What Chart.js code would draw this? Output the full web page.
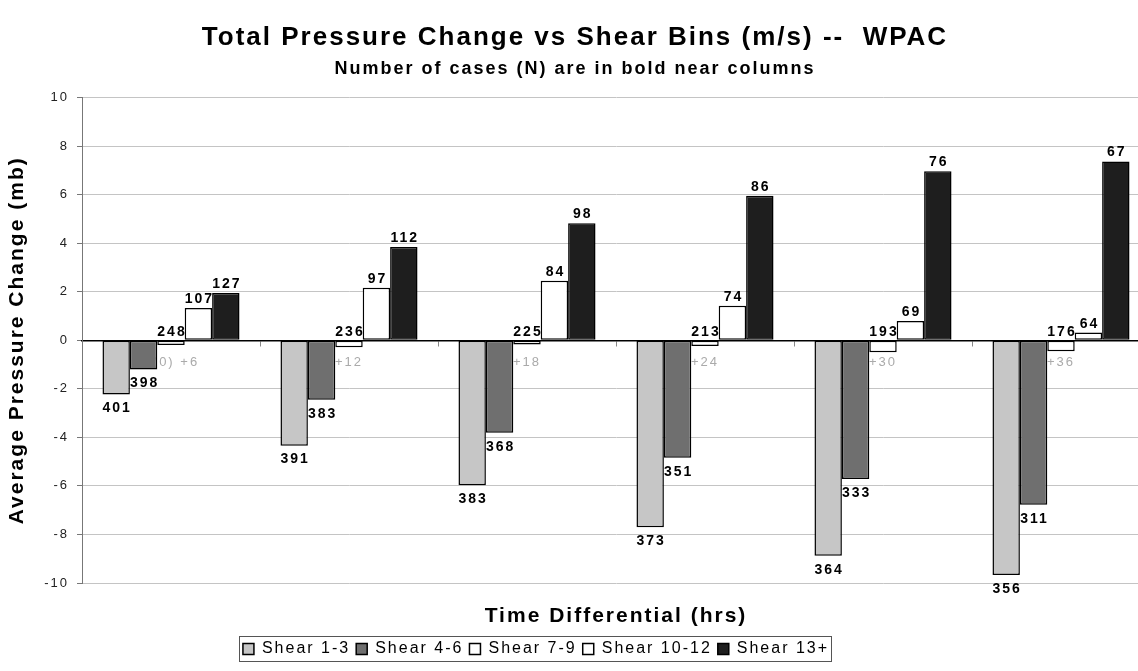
<!DOCTYPE html>
<html>
<head>
<meta charset="utf-8">
<title>Total Pressure Change vs Shear Bins -- WPAC</title>
<script src="https://cdn.jsdelivr.net/npm/chart.js@4.4.1/dist/chart.umd.min.js"></script>
<style>
  html, body { margin: 0; padding: 0; background: #fff; overflow: hidden; }
  #wrap { position: relative; width: 1150px; height: 671px; }
</style>
</head>
<body>
<div id="wrap"><canvas id="chart-area"></canvas></div>
<script>
// categories (time after T(0), hrs)
var timeLabels = ['T(0) +6', '+12', '+18', '+24', '+30', '+36'];

// average pressure change (mb) per shear bin
var shear1to3  = [-2.23, -4.34, -5.97, -7.70, -8.88, -9.67];
var shear4to6  = [-1.20, -2.45, -3.81, -4.84, -5.72, -6.78];
var shear7to9  = [-0.19, -0.29, -0.17, -0.23, -0.49, -0.45];
var shear10to12 = [1.33, 2.17, 2.45, 1.42, 0.80, 0.32];
var shear13up  = [1.95, 3.84, 4.82, 5.96, 6.97, 7.37];

// number of cases (N)
var n1to3   = [401, 391, 383, 373, 364, 356];
var n4to6   = [398, 383, 368, 351, 333, 311];
var n7to9   = [248, 236, 225, 213, 193, 176];
var n10to12 = [107, 97, 84, 74, 69, 64];
var n13up   = [127, 112, 98, 86, 76, 67];

var font = '"Liberation Sans", Arial, Helvetica, sans-serif';
var spacing = '2px';

function makeSet(label, data, counts, color) {
  return {
    label: label,
    data: data,
    counts: counts,
    backgroundColor: color,
    borderColor: '#000',
    borderWidth: 1.5,
    borderSkipped: false,
    categoryPercentage: 0.77,
    barPercentage: 1.0
  };
}

// the scanned original has widely spaced lettering
var letterSpacing = {
  id: 'letterSpacing',
  beforeUpdate: function (chart) { chart.ctx.letterSpacing = spacing; },
  beforeDraw: function (chart) { chart.ctx.letterSpacing = spacing; }
};

// legend sits left of centre in the original, with a box round it
var legendBox = {
  id: 'legendBox',
  afterLayout: function (chart) {
    chart.legend.left -= 39;
    chart.legend.right -= 39;
  },
  afterDraw: function (chart) {
    var hb = chart.legend.legendHitBoxes;
    if (!hb || !hb.length) return;
    var l = Math.min.apply(null, hb.map(function (h) { return h.left; })) - 4;
    var r = Math.max.apply(null, hb.map(function (h) { return h.left + h.width; })) + 2;
    var t = hb[0].top - 5;
    var b = hb[0].top + hb[0].height + 4;
    var ctx = chart.ctx;
    ctx.save();
    ctx.strokeStyle = '#555';
    ctx.lineWidth = 1;
    ctx.strokeRect(Math.round(l) + 0.5, Math.round(t) + 0.5, Math.round(r - l), Math.round(b - t));
    ctx.restore();
  }
};

var countLabels = {
  id: 'countLabels',
  afterDatasetsDraw: function (chart) {
    var ctx = chart.ctx;
    ctx.save();
    ctx.font = 'bold 14px ' + font;
    ctx.fillStyle = '#000';
    ctx.textAlign = 'center';
    chart.data.datasets.forEach(function (ds, i) {
      var meta = chart.getDatasetMeta(i);
      meta.data.forEach(function (bar, j) {
        var v = ds.data[j];
        var n = String(ds.counts[j]);
        if (v < -1) {
          ctx.textBaseline = 'top';
          ctx.fillText(n, bar.x + 1, bar.y + 7);
        } else {
          ctx.textBaseline = 'alphabetic';
          ctx.fillText(n, bar.x + 1, Math.min(bar.y, bar.base) - 5);
        }
      });
    });
    ctx.restore();
  }
};

var config = {
  type: 'bar',
  data: {
    labels: timeLabels,
    datasets: [
      makeSet('Shear 1-3', shear1to3, n1to3, '#c6c6c6'),
      makeSet('Shear 4-6', shear4to6, n4to6, '#6f6f6f'),
      makeSet('Shear 7-9', shear7to9, n7to9, '#ffffff'),
      makeSet('Shear 10-12', shear10to12, n10to12, '#ffffff'),
      makeSet('Shear 13+', shear13up, n13up, '#1e1e1e')
    ]
  },
  options: {
    responsive: true,
    maintainAspectRatio: false,
    animation: false,
    layout: { padding: { left: 0, right: 0, top: 0, bottom: 4 } },
    plugins: {
      tooltip: { enabled: false },
      title: {
        display: true,
        text: 'Total Pressure Change vs Shear Bins (m/s) --  WPAC',
        color: '#000',
        font: { family: font, size: 26, weight: 'bold' },
        padding: { top: 22, bottom: 4.6 }
      },
      subtitle: {
        display: true,
        text: 'Number of cases (N) are in bold near columns',
        color: '#000',
        font: { family: font, size: 18, weight: 'bold' },
        padding: { top: 0, bottom: 18.2 }
      },
      legend: {
        position: 'bottom',
        labels: {
          color: '#000',
          font: { family: font, size: 16 },
          boxWidth: 11,
          boxHeight: 11,
          padding: 6
        }
      }
    },
    scales: {
      x: {
        position: { y: 0 },
        z: 1,
        grid: {
          drawOnChartArea: false,
          drawTicks: true,
          tickLength: 5,
          tickColor: '#888'
        },
        border: { display: true, color: '#000', width: 1.5 },
        ticks: {
          color: '#aaa',
          font: { family: font, size: 13 },
          padding: 9,
          autoSkip: false,
          maxRotation: 0
        }
      },
      x2: {
        type: 'category',
        position: 'bottom',
        grid: { display: false, drawTicks: false },
        border: { display: false },
        ticks: { display: false },
        title: {
          display: true,
          text: 'Time Differential (hrs)',
          color: '#000',
          font: { family: font, size: 21, weight: 'bold' },
          padding: { top: 20, bottom: 6 }
        },
        afterFit: function (scale) { scale.height = 52; }
      },
      y: {
        min: -10,
        max: 10,
        grid: {
          color: '#c4c4c4',
          lineWidth: 1,
          drawTicks: true,
          tickLength: 5,
          tickColor: '#777'
        },
        border: { display: true, color: '#777', width: 1 },
        ticks: {
          stepSize: 2,
          color: '#222',
          padding: 8,
          font: { family: font, size: 13 }
        },
        title: {
          display: true,
          text: 'Average Pressure Change (mb)',
          color: '#000',
          font: { family: font, size: 21, weight: 'bold' },
          padding: { top: 5, bottom: 6 }
        },
        afterFit: function (scale) { scale.width = 82; }
      }
    }
  },
  plugins: [letterSpacing, legendBox, countLabels]
};

var ctx = document.getElementById('chart-area').getContext('2d');
var myBarChart = new Chart(ctx, config);
</script>
</body>
</html>
